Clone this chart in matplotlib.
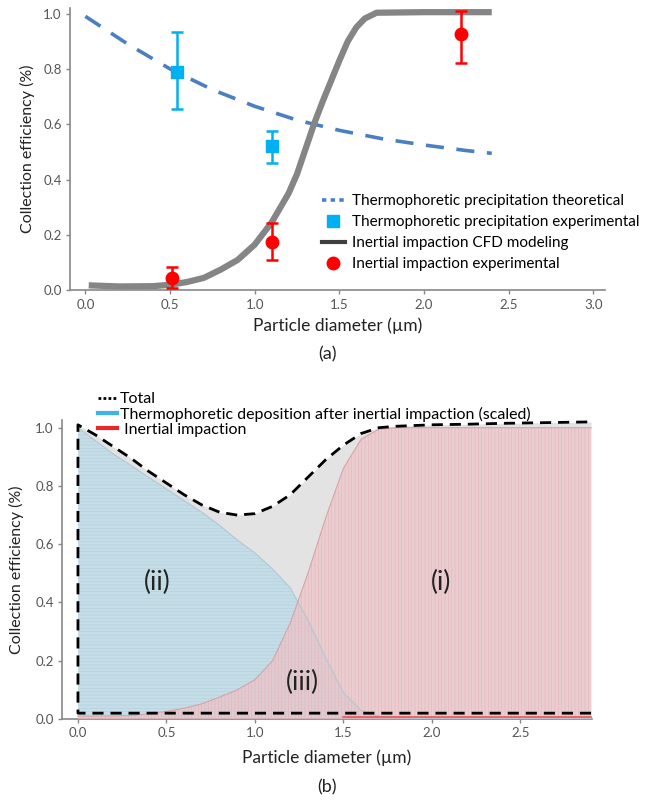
import numpy as np
import matplotlib
matplotlib.use('Agg')
import matplotlib.pyplot as plt
from matplotlib.lines import Line2D

plt.rcParams['font.family'] = ['Lato', 'DejaVu Sans']
plt.rcParams['hatch.linewidth'] = 0.4

# ---- panel (a) data ----
theo_x = [0.0, 0.25, 0.5, 0.75, 1.0, 1.25, 1.5, 1.75, 2.0, 2.25, 2.4]
theo_y = [0.99, 0.89, 0.80, 0.725, 0.665, 0.615, 0.578, 0.548, 0.525, 0.505, 0.495]

cfd_x = [0.02, 0.2, 0.4, 0.5, 0.6, 0.7, 0.8, 0.9, 1.0, 1.1, 1.2, 1.25, 1.3, 1.35,
         1.4, 1.45, 1.5, 1.55, 1.6, 1.65, 1.72, 2.0, 2.4]
cfd_y = [0.018, 0.014, 0.015, 0.02, 0.03, 0.045, 0.075, 0.11, 0.165, 0.245, 0.35, 0.42,
         0.51, 0.6, 0.68, 0.755, 0.83, 0.9, 0.95, 0.982, 1.003, 1.005, 1.005]

tp_exp_x = [0.54, 1.1]
tp_exp_y = [0.79, 0.52]
tp_err_lo = [0.135, 0.06]
tp_err_hi = [0.145, 0.055]

ii_exp_x = [0.51, 1.1, 2.22]
ii_exp_y = [0.045, 0.175, 0.925]
ii_err_lo = [0.035, 0.065, 0.105]
ii_err_hi = [0.04, 0.07, 0.085]

# ---- panel (b) data ----
b_x = [0.0, 0.1, 0.2, 0.3, 0.4, 0.5, 0.6, 0.7, 0.8, 0.9, 1.0, 1.1, 1.2, 1.3,
       1.4, 1.5, 1.6, 1.7, 1.8, 2.0, 2.2, 2.4, 2.6, 2.9]
b_total = [1.01, 0.975, 0.935, 0.895, 0.85, 0.81, 0.77, 0.735, 0.71, 0.70, 0.705, 0.73,
           0.77, 0.83, 0.89, 0.94, 0.98, 1.0, 1.005, 1.01, 1.012, 1.015, 1.017, 1.02]
b_thermo = [1.0, 0.955, 0.91, 0.87, 0.83, 0.79, 0.75, 0.71, 0.665, 0.615, 0.57, 0.515,
            0.45, 0.34, 0.21, 0.09, 0.03, 0.01, 0.005, 0.0, 0.0, 0.0, 0.0, 0.0]
b_inert = [0.01, 0.01, 0.01, 0.012, 0.018, 0.026, 0.037, 0.052, 0.075, 0.10, 0.135, 0.20,
           0.33, 0.50, 0.69, 0.86, 0.96, 0.995, 1.0, 1.0, 1.0, 1.0, 1.0, 1.0]
b_floor = 0.02

fig = plt.figure(figsize=(6.55, 8.02), dpi=100)

tick_col = '#555555'
lab_col = '#222222'

# ================= panel (a) =================
ax1 = fig.add_axes([0.107, 0.638, 0.817, 0.352])
ax1.plot(theo_x, theo_y, color='#4a7fc1', lw=2.6, dashes=(5, 3.5))
ax1.plot(cfd_x, cfd_y, color='#858585', lw=4.5, solid_capstyle='butt',
         solid_joinstyle='round')
ax1.errorbar(tp_exp_x, tp_exp_y, yerr=[tp_err_lo, tp_err_hi], fmt='s', color='#00b0f0',
             ms=8, capsize=4, elinewidth=1.8, capthick=1.8, zorder=4)
ax1.errorbar(ii_exp_x, ii_exp_y, yerr=[ii_err_lo, ii_err_hi], fmt='o', color='#ff0000',
             ms=9, capsize=4, elinewidth=1.8, capthick=1.8, zorder=4)
ax1.set_xlim(-0.09, 3.07)
ax1.set_ylim(0, 1.02)
ax1.set_xticks(np.arange(0, 3.01, 0.5))
ax1.set_yticks(np.arange(0, 1.01, 0.2))
ax1.set_xticklabels([f'{v:.1f}' for v in np.arange(0, 3.01, 0.5)])
ax1.set_yticklabels([f'{v:.1f}' for v in np.arange(0, 1.01, 0.2)])
ax1.set_xlabel('Particle diameter (µm)', fontsize=12.5, color=lab_col, labelpad=5)
ax1.set_ylabel('Collection efficiency (%)', fontsize=11.5, color=lab_col, labelpad=6)

handles_a = [
    Line2D([], [], color='#4a7fc1', lw=2.6, ls=(0, (1.2, 1.2))),
    Line2D([], [], color='#00b0f0', marker='s', ls='none', ms=8),
    Line2D([], [], color='#404040', lw=3),
    Line2D([], [], color='#ff0000', marker='o', ls='none', ms=9),
]
labels_a = ['Thermophoretic precipitation theoretical',
            'Thermophoretic precipitation experimental',
            'Inertial impaction CFD modeling',
            'Inertial impaction experimental']
ax1.legend(handles_a, labels_a, loc='upper left', bbox_to_anchor=(0.47, 0.34),
           frameon=False, fontsize=11, handlelength=1.5, handletextpad=0.5,
           labelspacing=0.45, borderaxespad=0, borderpad=0)

fig.text(0.5, 1 - 354 / 802, '(a)', ha='center', va='center', fontsize=13, color=lab_col)

# ================= panel (b) =================
ax2 = fig.add_axes([0.0947, 0.1035, 0.809, 0.373])
ax2.fill_between(b_x, 0, b_total, color='#e3e3e3', lw=0, zorder=1)
ax2.fill_between(b_x, 0, b_thermo, facecolor='#bcdbe8', edgecolor='#a6cbdc',
                 hatch='-----', lw=0, alpha=0.75, zorder=2)
ax2.fill_between(b_x, 0, b_inert, facecolor='#eec4c8', edgecolor='#e3a9ae',
                 hatch='|||||', lw=0, alpha=0.7, zorder=3)
ax2.plot(b_x, b_thermo, color='#b0c8d4', lw=0.8, zorder=3)
ax2.plot(b_x, b_inert, color='#d9a3a8', lw=0.8, zorder=3)
ax2.plot(b_x[15:], np.array(b_inert[15:]) * 0 + 0.008, color='#e8555c', lw=1.2, zorder=3)

# dashed outline of the total curve: floor (right to left), up the left edge, along the top
tot_x = np.concatenate([b_x[::-1], b_x])
tot_y = np.concatenate([np.full(len(b_x), b_floor), b_total])
ax2.plot(tot_x, tot_y, color='black', lw=2, dashes=(4, 2.5), zorder=5)

ax2.set_xlim(-0.09, 2.905)
ax2.set_ylim(0, 1.027)
ax2.set_xticks(np.arange(0, 2.51, 0.5))
ax2.set_yticks(np.arange(0, 1.01, 0.2))
ax2.set_xticklabels([f'{v:.1f}' for v in np.arange(0, 2.51, 0.5)])
ax2.set_yticklabels([f'{v:.1f}' for v in np.arange(0, 1.01, 0.2)])
ax2.set_xlabel('Particle diameter (µm)', fontsize=12.5, color=lab_col, labelpad=7)
ax2.set_ylabel('Collection efficiency (%)', fontsize=11.5, color=lab_col, labelpad=8)

ax2.text(0.45, 0.47, '(ii)', fontsize=19, ha='center', va='center', color='#222222', zorder=6)
ax2.text(2.05, 0.47, '(i)', fontsize=19, ha='center', va='center', color='#222222', zorder=6)
ax2.text(1.27, 0.125, '(iii)', fontsize=19, ha='center', va='center', color='#222222', zorder=6)

handles_b = [
    Line2D([], [], color='black', lw=2, ls=(0, (1, 0.8))),
    Line2D([], [], color='#3cb4e6', lw=3),
    Line2D([], [], color='#e8262b', lw=3),
]
labels_b = ['Total', 'Thermophoretic deposition after inertial impaction (scaled)',
            ' Inertial impaction']
fig.legend(handles_b, labels_b, loc='upper left', bbox_to_anchor=(0.15, 1 - 392 / 802),
           frameon=False, fontsize=11.5, handlelength=1.2, handletextpad=0.15,
           labelspacing=0.05, borderaxespad=0, borderpad=0)

fig.text(0.5, 1 - 787 / 802, '(b)', ha='center', va='center', fontsize=13, color=lab_col)

for ax in (ax1, ax2):
    for s in ('top', 'right'):
        ax.spines[s].set_visible(False)
    for s in ('left', 'bottom'):
        ax.spines[s].set_color('#888888')
        ax.spines[s].set_linewidth(1.2)
    ax.tick_params(direction='out', length=3, width=1, color='#888888',
                   labelsize=9.5, labelcolor=tick_col, pad=3)

fig.savefig('out.png', dpi=100)
